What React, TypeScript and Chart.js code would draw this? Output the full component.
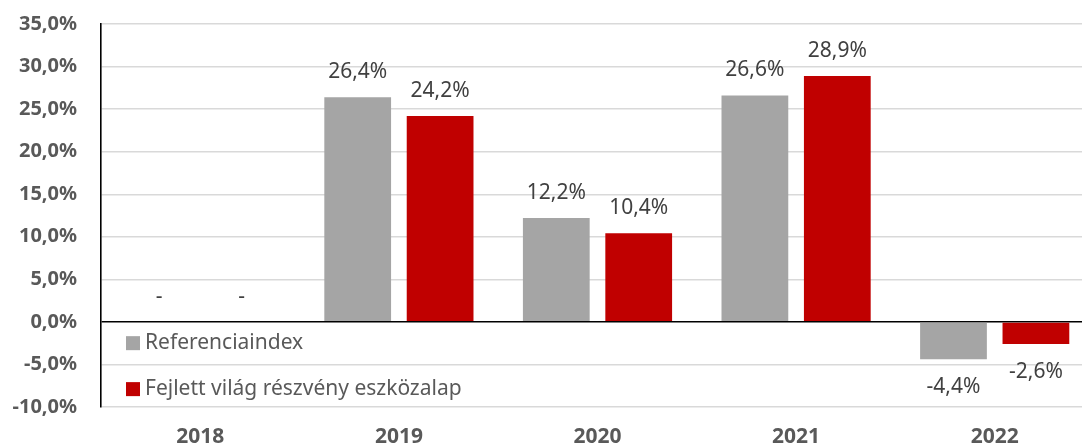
import React, { useEffect, useRef } from "react";
import { Chart, registerables } from "chart.js";

Chart.register(...registerables);

const categories = ["2018", "2019", "2020", "2021", "2022"];
const referenceValues: (number | null)[] = [null, 26.4, 12.2, 26.6, -4.4];
const fundValues: (number | null)[] = [null, 24.2, 10.4, 28.9, -2.6];
const seriesNames = ["Referenciaindex", "Fejlett világ részvény eszközalap"];
const seriesColors = ["#a5a5a5", "#c00000"];
const yMin = -10;
const yMax = 35;
const yStep = 5;

const FONT = "'Noto Sans', 'DejaVu Sans', sans-serif";

const fmt = (v: number, digits: number) => v.toFixed(digits).replace(".", ",") + "%";

const labelPlugin = {
  id: "valueLabels",
  afterDatasetsDraw(chart: any) {
    const ctx = chart.ctx;
    const yScale = chart.scales.y;
    ctx.save();
    ctx.font = `21px ${FONT}`;
    ctx.fillStyle = "#404040";
    ctx.textAlign = "center";
    ctx.textBaseline = "middle";
    chart.data.datasets.forEach((ds: any, di: number) => {
      const meta = chart.getDatasetMeta(di);
      meta.data.forEach((el: any, i: number) => {
        const v = ds.data[i];
        const x = el.x;
        if (v === null || v === undefined) {
          const y0 = yScale.getPixelForValue(0);
          ctx.fillText("-", x, y0 - 25);
          return;
        }
        const yp = yScale.getPixelForValue(v);
        const text = fmt(v, 1);
        if (v >= 0) ctx.fillText(text, x, yp - 25);
        else ctx.fillText(text, x, yp + 28);
      });
    });
    ctx.restore();
  },
};

const legendPlugin = {
  id: "insideLegend",
  afterDraw(chart: any) {
    const ctx = chart.ctx;
    const area = chart.chartArea;
    const yScale = chart.scales.y;
    ctx.save();
    ctx.font = `21px ${FONT}`;
    ctx.textBaseline = "middle";
    ctx.textAlign = "left";
    const x0 = area.left + 25;
    const rows = [yScale.getPixelForValue(-2.5), yScale.getPixelForValue(-7.9)];
    seriesNames.forEach((name, i) => {
      const cy = rows[i];
      ctx.fillStyle = seriesColors[i];
      ctx.fillRect(x0, cy - 7, 14, 14);
      ctx.fillStyle = "#595959";
      ctx.fillText(name, x0 + 19, cy);
    });
    ctx.restore();
  },
};

export default function App() {
  const canvasRef = useRef<HTMLCanvasElement | null>(null);

  useEffect(() => {
    if (!canvasRef.current) return;
    const chart = new Chart(canvasRef.current, {
      type: "bar",
      data: {
        labels: categories,
        datasets: [
          {
            label: seriesNames[0],
            data: referenceValues,
            backgroundColor: seriesColors[0],
            categoryPercentage: 0.83,
            barPercentage: 0.81,
          },
          {
            label: seriesNames[1],
            data: fundValues,
            backgroundColor: seriesColors[1],
            categoryPercentage: 0.83,
            barPercentage: 0.81,
          },
        ],
      },
      options: {
        animation: false,
        responsive: false,
        devicePixelRatio: 1,
        layout: { padding: { top: 24, left: 0, right: 0, bottom: 0 } },
        plugins: {
          legend: { display: false },
          tooltip: { enabled: false },
        },
        scales: {
          x: {
            grid: { display: false, drawTicks: false },
            border: { display: false },
            ticks: {
              padding: 17,
              color: "#595959",
              font: { family: FONT, size: 21, weight: "bold" },
            },
            afterFit(scale: any) {
              scale.height = 38;
            },
          },
          y: {
            min: yMin,
            max: yMax,
            grid: {
              drawTicks: true,
              tickLength: 24,
              tickColor: "rgba(0,0,0,0)",
              color: (c: any) => (c.tick && c.tick.value === 0 ? "#000000" : "#d9d9d9"),
              lineWidth: (c: any) => (c.tick && c.tick.value === 0 ? 1.6 : 1.4),
            },
            border: { display: true, color: "#000000", width: 1.6 },
            ticks: {
              stepSize: yStep,
              padding: 0,
              color: "#595959",
              font: { family: FONT, size: 20, weight: "bold" },
              callback: (v: any) => fmt(Number(v), 1),
            },
            afterFit(scale: any) {
              scale.width = 101;
            },
          },
        },
      },
      plugins: [labelPlugin, legendPlugin],
    });
    return () => chart.destroy();
  }, []);

  return (
    <div
      style={{
        position: "fixed",
        left: 0,
        top: 0,
        width: 1082,
        height: 445,
        overflow: "hidden",
        background: "#ffffff",
      }}
    >
      <canvas ref={canvasRef} width={1094} height={445} style={{ display: "block" }} />
    </div>
  );
}
